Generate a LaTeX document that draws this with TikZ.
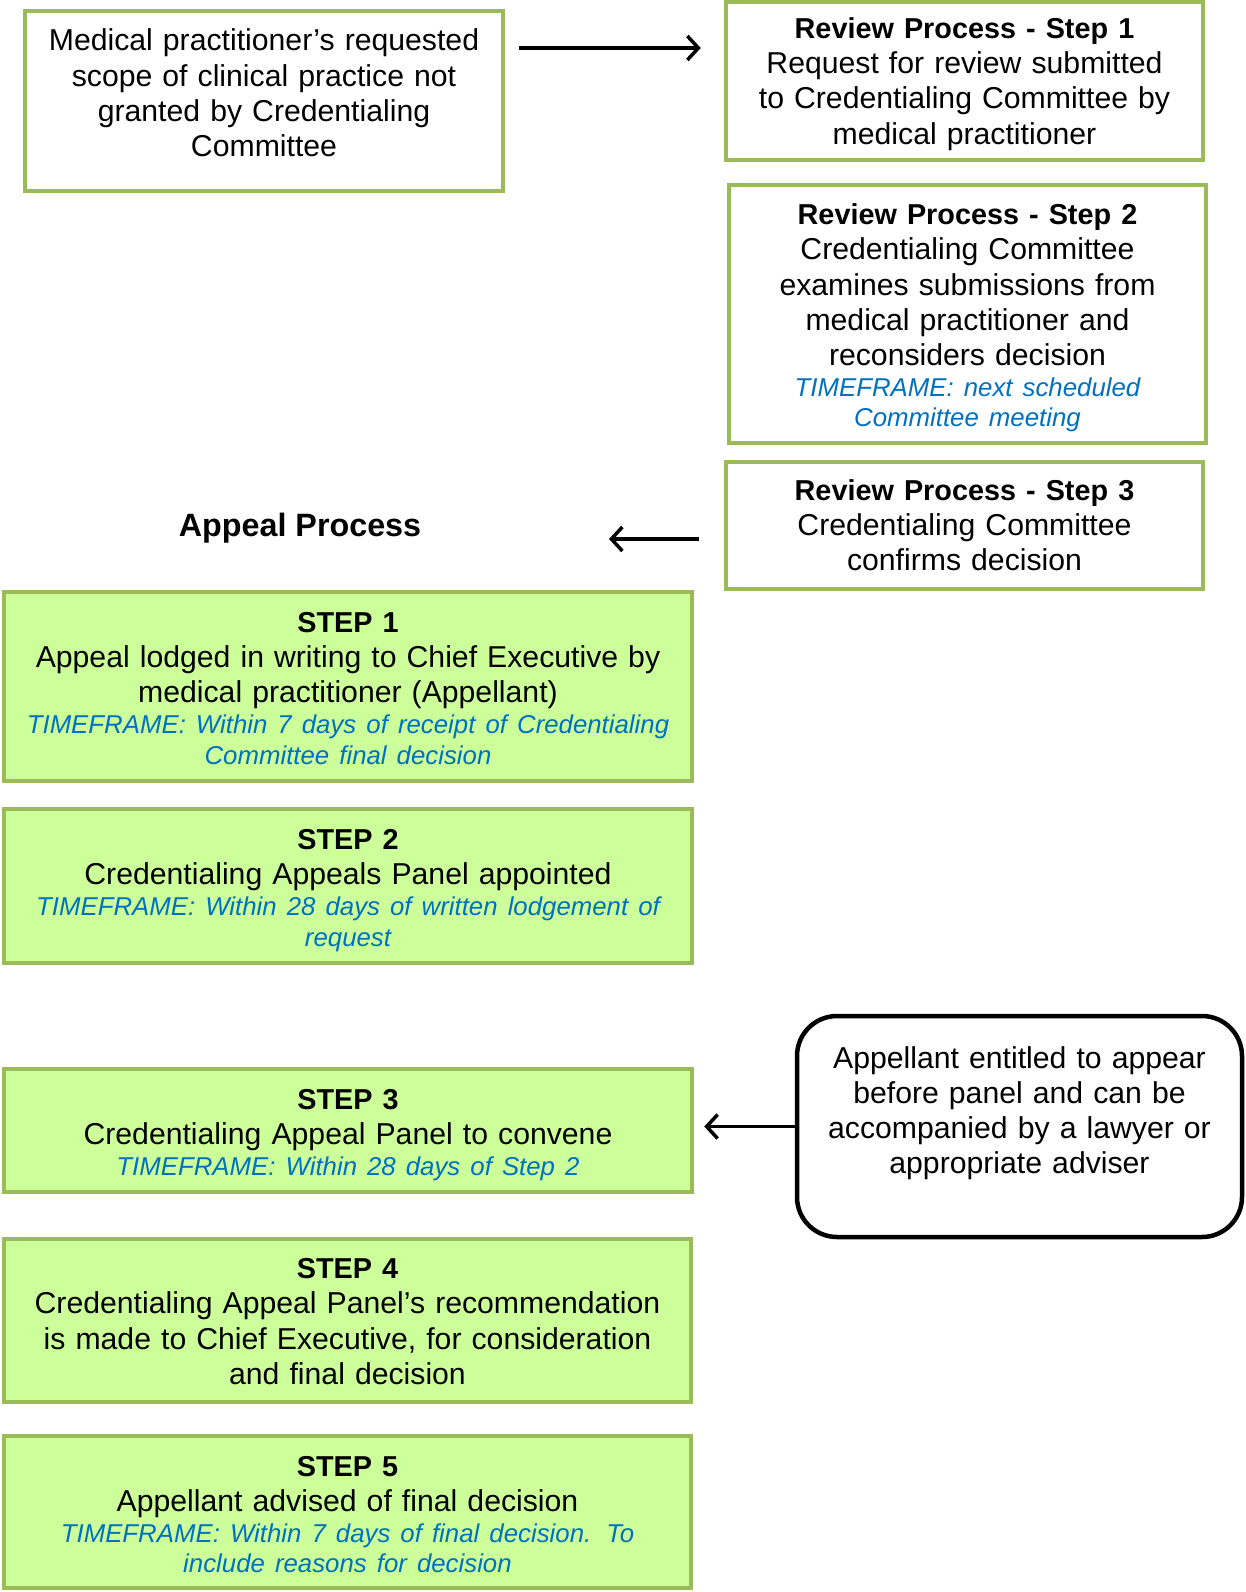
\documentclass[tikz,border=0pt]{standalone}
\usepackage{fontspec}
\usetikzlibrary{arrows.meta,calc}
\newfontfamily\arialx{Liberation Sans}
\definecolor{gborder}{HTML}{9BBB59}
\definecolor{gfill}{HTML}{CCFF99}
\definecolor{tfblue}{HTML}{0070C0}
\newcommand\bodyf{\arialx\fontsize{30.2}{35.2}\selectfont}
\newcommand\ttl[1]{{\fontsize{28.8}{35.2}\selectfont\bfseries #1}}
\newcommand\tff{\par\vspace{0.5pt}\arialx\itshape\fontsize{25.8}{30.5}\selectfont\color{tfblue}}
\begin{document}
\begin{tikzpicture}[x=1pt,y=-1pt,
  wbox/.style={draw=gborder, line width=4.5pt, fill=white, inner sep=0pt},
  sbox/.style={draw=gborder, line width=4.5pt, fill=gfill, inner sep=0pt, minimum width=688pt},
  rbox/.style={draw=black, line width=4.5pt, fill=white, rounded corners=40pt, inner sep=0pt},
  txt/.style={inner sep=0pt, align=center, font=\bodyf},
  arr/.style={line width=3.5pt, -{Straight Barb[length=11pt,width=24pt]}}]
\useasboundingbox (0,0) rectangle (1246,1592);
\fill[white] (0,0) rectangle (1246,1592);

% top-left box
\node[wbox, minimum width=478pt, minimum height=180pt] (A) at (264,101) {};
\node[txt, text width=470pt] (At) at ([shift={(0,-8)}]A.center)
  {Medical practitioner’s requested\\scope of clinical practice not\\granted by Credentialing\\Committee};

% review process boxes
\node[wbox, minimum width=477pt, minimum height=158pt] (R1) at (964.5,81) {};
\node[txt, text width=469pt] (R1t) at ([shift={(0,3)}]R1.center)
  {\ttl{Review Process - Step 1}\\Request for review submitted\\to Credentialing Committee by\\medical practitioner};
\node[wbox, minimum width=477pt, minimum height=258pt] (R2) at (967.5,314) {};
\node[txt, text width=469pt] (R2t) at ([shift={(0,4)}]R2.center)
  {\ttl{Review Process - Step 2}\\Credentialing Committee\\examines submissions from\\medical practitioner and\\reconsiders decision
   \tff TIMEFRAME: next scheduled\\Committee meeting\par};
\node[wbox, minimum width=477pt, minimum height=127pt] (R3) at (964.5,525.5) {};
\node[txt, text width=469pt] (R3t) at (R3.center)
  {\ttl{Review Process - Step 3}\\Credentialing Committee\\confirms decision};

\node[txt, font=\arialx\fontsize{32.3}{35}\selectfont\bfseries] (AP) at (300,528) {Appeal Process};

% appeal steps
\node[sbox, minimum height=189pt] (S1) at (348,686.5) {};
\node[txt, text width=680pt] (S1t) at ([shift={(0,2)}]S1.center)
  {\ttl{STEP 1}\\Appeal lodged in writing to Chief Executive by\\medical practitioner (Appellant)
   \tff TIMEFRAME: Within 7 days of receipt of Credentialing\\Committee final decision\par};
\node[sbox, minimum height=154pt] (S2) at (348,886) {};
\node[txt, text width=680pt] (S2t) at ([shift={(0,4.5)}]S2.center)
  {\ttl{STEP 2}\\Credentialing Appeals Panel appointed
   \tff TIMEFRAME: Within 28 days of written lodgement of\\request\par};
\node[sbox, minimum height=123pt] (S3) at (348,1130.5) {};
\node[txt, text width=680pt] (S3t) at ([shift={(0,4.5)}]S3.center)
  {\ttl{STEP 3}\\Credentialing Appeal Panel to convene
   \tff TIMEFRAME: Within 28 days of Step 2\par};
\node[sbox, minimum width=687pt, minimum height=163pt] (S4) at (347.5,1320.5) {};
\node[txt, text width=680pt] (S4t) at ([shift={(0,1)}]S4.center)
  {\ttl{STEP 4}\\Credentialing Appeal Panel’s recommendation\\is made to Chief Executive, for consideration\\and final decision};
\node[sbox, minimum width=687pt, minimum height=152pt] (S5) at (347.5,1512) {};
\node[txt, text width=680pt] (S5t) at ([shift={(0,2.5)}]S5.center)
  {\ttl{STEP 5}\\Appellant advised of final decision
   \tff TIMEFRAME: Within 7 days of final decision. To\\include reasons for decision\par};

% rounded note
\node[rbox, minimum width=445pt, minimum height=221pt] (RB) at (1019.5,1126.5) {};
\node[txt, text width=437pt] (RBt) at ([shift={(0,-13.5)}]RB.center)
  {Appellant entitled to appear\\before panel and can be\\accompanied by a lawyer or\\appropriate adviser};

% connectors
\coordinate (a1) at ([shift={(14,-53)}]A.east);
\draw[arr, shorten >=23pt] (a1) -- (a1 -| R1.west);
\coordinate (a2) at ([shift={(-25,13.5)}]R3.west);
\coordinate (apin) at (609,539);
\draw[arr] (a2) -- (apin);
\draw[arr, shorten >=10pt] (RB.west) -- (RB.west -| S3.east);
\end{tikzpicture}
\end{document}
